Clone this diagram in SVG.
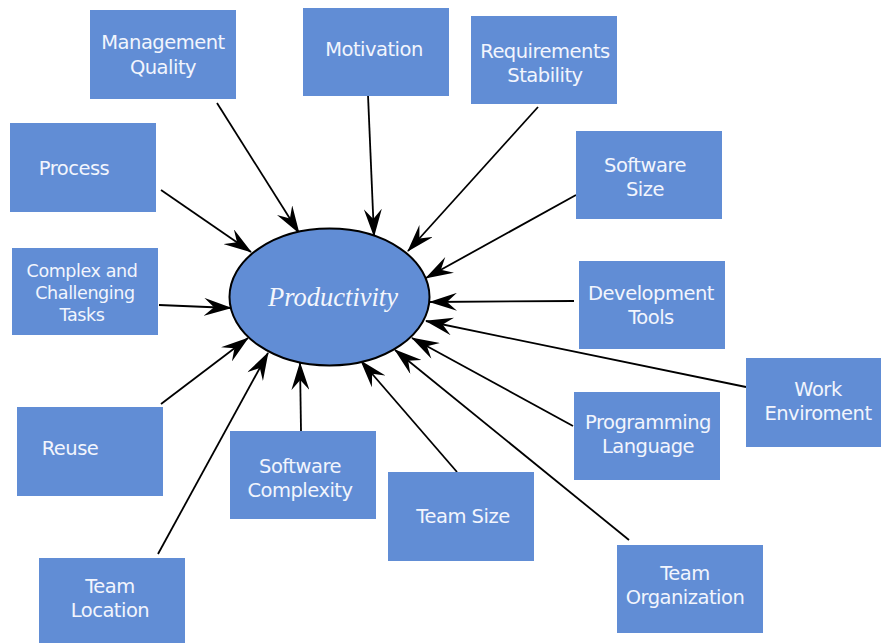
<svg xmlns="http://www.w3.org/2000/svg" width="881" height="643" viewBox="0 0 881 643">
<defs>
<style>
.box{fill:#618dd5}
.t{font-family:"DejaVu Sans","Liberation Sans",sans-serif;font-size:19.5px;letter-spacing:-0.5px;fill:#f2f5fd;text-anchor:middle}
.s{font-size:17.5px;letter-spacing:-0.4px}
.c line{stroke:#000;stroke-width:1.8;marker-end:url(#ah)}
</style>
<marker id="ah" markerUnits="userSpaceOnUse" markerWidth="28" markerHeight="18" refX="27" refY="9" orient="auto" viewBox="0 0 28 18">
<path d="M0,0 L28,9 L0,18 L10,9 z" fill="#000"/>
</marker>
</defs>
<rect width="881" height="643" fill="#fff"/>
<g id="connectors" class="c">
<line x1="217" y1="103" x2="299" y2="233"/>
<line x1="368" y1="95" x2="374" y2="236"/>
<line x1="538" y1="107" x2="408" y2="251"/>
<line x1="576" y1="195" x2="426" y2="278"/>
<line x1="161" y1="190" x2="251" y2="252"/>
<line x1="159" y1="305" x2="231" y2="308"/>
<line x1="574" y1="301" x2="430" y2="302"/>
<line x1="746" y1="387" x2="426" y2="321"/>
<line x1="573" y1="426" x2="412" y2="338"/>
<line x1="161" y1="404" x2="248" y2="338"/>
<line x1="301" y1="431" x2="300" y2="363"/>
<line x1="457" y1="472" x2="361" y2="361"/>
<line x1="158" y1="554" x2="268" y2="353"/>
<line x1="629" y1="540" x2="395" y2="350"/>
</g>
<g id="productivity">
<ellipse cx="329.5" cy="297" rx="100" ry="68.5" fill="#618dd5" stroke="#000" stroke-width="2"/>
<text x="333" y="306" font-family="Liberation Serif,serif" font-style="italic" font-size="26.5" fill="#f4f6fc" text-anchor="middle">Productivity</text>
</g>
<g id="management-quality"><rect class="box" x="90" y="10" width="146" height="89"/><text class="t" x="163" y="49">Management</text><text class="t" x="163" y="74">Quality</text></g>
<g id="motivation"><rect class="box" x="303" y="8" width="146" height="88"/><text class="t" x="374" y="56">Motivation</text></g>
<g id="requirements-stability"><rect class="box" x="471" y="16" width="146" height="88"/><text class="t" x="545" y="58">Requirements</text><text class="t" x="545" y="82">Stability</text></g>
<g id="software-size"><rect class="box" x="576" y="131" width="146" height="88"/><text class="t" x="645" y="172">Software</text><text class="t" x="645" y="196">Size</text></g>
<g id="process"><rect class="box" x="10" y="123" width="146" height="89"/><text class="t" x="74" y="175">Process</text></g>
<g id="complex-tasks"><rect class="box" x="12" y="248" width="146" height="87"/><text class="t s" x="82" y="277">Complex and</text><text class="t s" x="85" y="299">Challenging</text><text class="t s" x="82" y="321">Tasks</text></g>
<g id="development-tools"><rect class="box" x="579" y="261" width="146" height="88"/><text class="t" x="651" y="300">Development</text><text class="t" x="651" y="324">Tools</text></g>
<g id="work-enviroment"><rect class="box" x="746" y="358" width="135" height="89"/><text class="t" x="818" y="396">Work</text><text class="t" x="818" y="420">Enviroment</text></g>
<g id="programming-language"><rect class="box" x="574" y="392" width="146" height="88"/><text class="t" x="648" y="429">Programming</text><text class="t" x="648" y="453">Language</text></g>
<g id="reuse"><rect class="box" x="17" y="407" width="146" height="89"/><text class="t" x="70" y="455">Reuse</text></g>
<g id="software-complexity"><rect class="box" x="230" y="431" width="146" height="88"/><text class="t" x="300" y="473">Software</text><text class="t" x="300" y="497">Complexity</text></g>
<g id="team-size"><rect class="box" x="388" y="472" width="146" height="89"/><text class="t" x="463" y="523">Team Size</text></g>
<g id="team-location"><rect class="box" x="39" y="558" width="146" height="85"/><text class="t" x="110" y="593">Team</text><text class="t" x="110" y="617">Location</text></g>
<g id="team-organization"><rect class="box" x="617" y="545" width="146" height="88"/><text class="t" x="685" y="580">Team</text><text class="t" x="685" y="604">Organization</text></g>
</svg>
